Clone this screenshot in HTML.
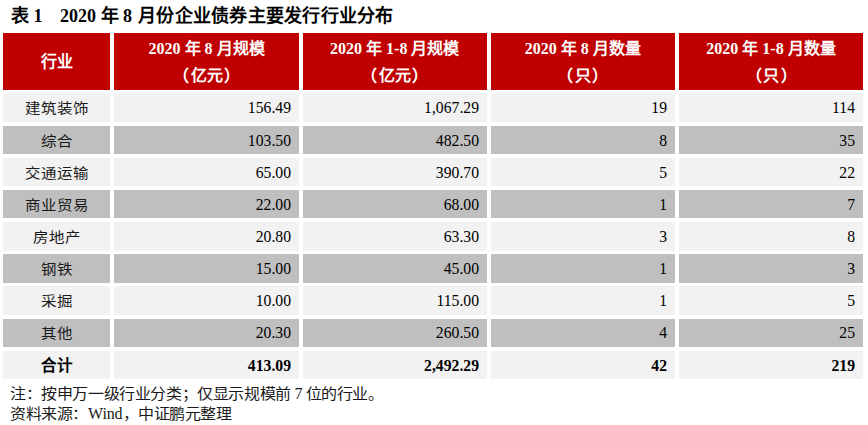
<!DOCTYPE html>
<html lang="zh-CN"><head><meta charset="utf-8"><style>
html,body{margin:0;padding:0;background:#fff;width:868px;height:425px;overflow:hidden;position:relative}
body{font-family:"Liberation Serif",serif;color:#000}
.c{position:absolute;box-sizing:border-box}
.h{background:#c00000;color:#fff;font-weight:bold;font-size:16px;text-align:center;text-spacing-trim:space-all}
.h .l{position:absolute;left:0;right:0;white-space:nowrap;line-height:20px}
.r{font-size:16px;line-height:20px;white-space:nowrap}
.lt{background:#f2f2f2}
.dk{background:#bfbfbf}
.nm{text-align:right;padding-right:8px;font-size:15.7px}
.nc{text-align:center;font-size:15.5px;padding-top:1px;color:#1a1a1a;transform:scaleY(0.91);transform-origin:50% 2px}
.nc.b{font-weight:bold;font-size:15.5px;padding-top:0;color:#000;transform:none}
.b{font-weight:bold}
.t{position:absolute;white-space:nowrap}
.ft{font-size:16px;line-height:20px;color:#1a1a1a;letter-spacing:-0.4px;transform:scaleY(0.91);transform-origin:0 17px}
.un{display:inline-block;transform:scaleY(1.099);transform-origin:0 15px}
.pl{margin-right:1.5px}
.pr{margin-left:1.5px}
</style></head><body>

<div class="t" style="left:11px;top:6px;font-size:18px;line-height:20px;font-weight:bold">表 1</div>
<div class="t" style="left:60px;top:6px;font-size:18px;line-height:20px;font-weight:bold">2020 年 8 <span style="margin-left:1.5px;letter-spacing:0.25px">月份企业债券主要发行行业分布</span></div>
<div class="c h" style="left:3px;top:33px;width:107px;height:57px"><div class="l" style="top:19px">行业</div></div>
<div class="c h" style="left:114px;top:33px;width:185px;height:57px"><div class="l" style="top:6px">2020 年 8 月规模</div><div class="l" style="top:32.5px"><span class=pl>（</span>亿元<span class=pr>）</span></div></div>
<div class="c h" style="left:302.5px;top:33px;width:184.5px;height:57px"><div class="l" style="top:6px">2020 年 1-8 月规模</div><div class="l" style="top:32.5px"><span class=pl>（</span>亿元<span class=pr>）</span></div></div>
<div class="c h" style="left:490.6px;top:33px;width:184.39999999999998px;height:57px"><div class="l" style="top:6px">2020 年 8 月数量</div><div class="l" style="top:32.5px"><span class=pl>（</span>只<span class=pr>）</span></div></div>
<div class="c h" style="left:679px;top:33px;width:184px;height:57px"><div class="l" style="top:6px">2020 年 1-8 月数量</div><div class="l" style="top:32.5px"><span class=pl>（</span>只<span class=pr>）</span></div></div>
<div class="c lt" style="left:3px;top:93px;width:107px;height:29px"></div>
<div class="c r nc" style="left:3px;top:98px;width:107px">建筑装饰</div>
<div class="c lt" style="left:114px;top:93px;width:185px;height:29px"></div>
<div class="c r nm" style="left:114px;top:98px;width:185px">156.49</div>
<div class="c lt" style="left:302.5px;top:93px;width:184.5px;height:29px"></div>
<div class="c r nm" style="left:302.5px;top:98px;width:184.5px">1,067.29</div>
<div class="c lt" style="left:490.6px;top:93px;width:184.39999999999998px;height:29px"></div>
<div class="c r nm" style="left:490.6px;top:98px;width:184.39999999999998px">19</div>
<div class="c lt" style="left:679px;top:93px;width:184px;height:29px"></div>
<div class="c r nm" style="left:679px;top:98px;width:184px">114</div>
<div class="c dk" style="left:3px;top:126px;width:107px;height:28px"></div>
<div class="c r nc" style="left:3px;top:131px;width:107px">综合</div>
<div class="c dk" style="left:114px;top:126px;width:185px;height:28px"></div>
<div class="c r nm" style="left:114px;top:131px;width:185px">103.50</div>
<div class="c dk" style="left:302.5px;top:126px;width:184.5px;height:28px"></div>
<div class="c r nm" style="left:302.5px;top:131px;width:184.5px">482.50</div>
<div class="c dk" style="left:490.6px;top:126px;width:184.39999999999998px;height:28px"></div>
<div class="c r nm" style="left:490.6px;top:131px;width:184.39999999999998px">8</div>
<div class="c dk" style="left:679px;top:126px;width:184px;height:28px"></div>
<div class="c r nm" style="left:679px;top:131px;width:184px">35</div>
<div class="c lt" style="left:3px;top:158px;width:107px;height:28px"></div>
<div class="c r nc" style="left:3px;top:163px;width:107px">交通运输</div>
<div class="c lt" style="left:114px;top:158px;width:185px;height:28px"></div>
<div class="c r nm" style="left:114px;top:163px;width:185px">65.00</div>
<div class="c lt" style="left:302.5px;top:158px;width:184.5px;height:28px"></div>
<div class="c r nm" style="left:302.5px;top:163px;width:184.5px">390.70</div>
<div class="c lt" style="left:490.6px;top:158px;width:184.39999999999998px;height:28px"></div>
<div class="c r nm" style="left:490.6px;top:163px;width:184.39999999999998px">5</div>
<div class="c lt" style="left:679px;top:158px;width:184px;height:28px"></div>
<div class="c r nm" style="left:679px;top:163px;width:184px">22</div>
<div class="c dk" style="left:3px;top:190px;width:107px;height:28px"></div>
<div class="c r nc" style="left:3px;top:195px;width:107px">商业贸易</div>
<div class="c dk" style="left:114px;top:190px;width:185px;height:28px"></div>
<div class="c r nm" style="left:114px;top:195px;width:185px">22.00</div>
<div class="c dk" style="left:302.5px;top:190px;width:184.5px;height:28px"></div>
<div class="c r nm" style="left:302.5px;top:195px;width:184.5px">68.00</div>
<div class="c dk" style="left:490.6px;top:190px;width:184.39999999999998px;height:28px"></div>
<div class="c r nm" style="left:490.6px;top:195px;width:184.39999999999998px">1</div>
<div class="c dk" style="left:679px;top:190px;width:184px;height:28px"></div>
<div class="c r nm" style="left:679px;top:195px;width:184px">7</div>
<div class="c lt" style="left:3px;top:222px;width:107px;height:29px"></div>
<div class="c r nc" style="left:3px;top:227px;width:107px">房地产</div>
<div class="c lt" style="left:114px;top:222px;width:185px;height:29px"></div>
<div class="c r nm" style="left:114px;top:227px;width:185px">20.80</div>
<div class="c lt" style="left:302.5px;top:222px;width:184.5px;height:29px"></div>
<div class="c r nm" style="left:302.5px;top:227px;width:184.5px">63.30</div>
<div class="c lt" style="left:490.6px;top:222px;width:184.39999999999998px;height:29px"></div>
<div class="c r nm" style="left:490.6px;top:227px;width:184.39999999999998px">3</div>
<div class="c lt" style="left:679px;top:222px;width:184px;height:29px"></div>
<div class="c r nm" style="left:679px;top:227px;width:184px">8</div>
<div class="c dk" style="left:3px;top:254px;width:107px;height:29px"></div>
<div class="c r nc" style="left:3px;top:259px;width:107px">钢铁</div>
<div class="c dk" style="left:114px;top:254px;width:185px;height:29px"></div>
<div class="c r nm" style="left:114px;top:259px;width:185px">15.00</div>
<div class="c dk" style="left:302.5px;top:254px;width:184.5px;height:29px"></div>
<div class="c r nm" style="left:302.5px;top:259px;width:184.5px">45.00</div>
<div class="c dk" style="left:490.6px;top:254px;width:184.39999999999998px;height:29px"></div>
<div class="c r nm" style="left:490.6px;top:259px;width:184.39999999999998px">1</div>
<div class="c dk" style="left:679px;top:254px;width:184px;height:29px"></div>
<div class="c r nm" style="left:679px;top:259px;width:184px">3</div>
<div class="c lt" style="left:3px;top:286px;width:107px;height:29px"></div>
<div class="c r nc" style="left:3px;top:291px;width:107px">采掘</div>
<div class="c lt" style="left:114px;top:286px;width:185px;height:29px"></div>
<div class="c r nm" style="left:114px;top:291px;width:185px">10.00</div>
<div class="c lt" style="left:302.5px;top:286px;width:184.5px;height:29px"></div>
<div class="c r nm" style="left:302.5px;top:291px;width:184.5px">115.00</div>
<div class="c lt" style="left:490.6px;top:286px;width:184.39999999999998px;height:29px"></div>
<div class="c r nm" style="left:490.6px;top:291px;width:184.39999999999998px">1</div>
<div class="c lt" style="left:679px;top:286px;width:184px;height:29px"></div>
<div class="c r nm" style="left:679px;top:291px;width:184px">5</div>
<div class="c dk" style="left:3px;top:319px;width:107px;height:28px"></div>
<div class="c r nc" style="left:3px;top:323px;width:107px">其他</div>
<div class="c dk" style="left:114px;top:319px;width:185px;height:28px"></div>
<div class="c r nm" style="left:114px;top:323px;width:185px">20.30</div>
<div class="c dk" style="left:302.5px;top:319px;width:184.5px;height:28px"></div>
<div class="c r nm" style="left:302.5px;top:323px;width:184.5px">260.50</div>
<div class="c dk" style="left:490.6px;top:319px;width:184.39999999999998px;height:28px"></div>
<div class="c r nm" style="left:490.6px;top:323px;width:184.39999999999998px">4</div>
<div class="c dk" style="left:679px;top:319px;width:184px;height:28px"></div>
<div class="c r nm" style="left:679px;top:323px;width:184px">25</div>
<div class="c lt" style="left:3px;top:351px;width:107px;height:28px"></div>
<div class="c r nc b" style="left:3px;top:356px;width:107px">合计</div>
<div class="c lt" style="left:114px;top:351px;width:185px;height:28px"></div>
<div class="c r nm b" style="left:114px;top:356px;width:185px">413.09</div>
<div class="c lt" style="left:302.5px;top:351px;width:184.5px;height:28px"></div>
<div class="c r nm b" style="left:302.5px;top:356px;width:184.5px">2,492.29</div>
<div class="c lt" style="left:490.6px;top:351px;width:184.39999999999998px;height:28px"></div>
<div class="c r nm b" style="left:490.6px;top:356px;width:184.39999999999998px">42</div>
<div class="c lt" style="left:679px;top:351px;width:184px;height:28px"></div>
<div class="c r nm b" style="left:679px;top:356px;width:184px">219</div>
<div class="t ft" style="left:10px;top:384px">注：按申万一级行业分类；仅显示规模前 <span class=un>7</span> 位的行业。</div>
<div class="t ft" style="left:10px;top:404px">资料来源：<span style="letter-spacing:-0.1px"><span class=un>Wind</span>，</span><span style="letter-spacing:-0.55px">中证鹏元整理</span></div>
</body></html>
